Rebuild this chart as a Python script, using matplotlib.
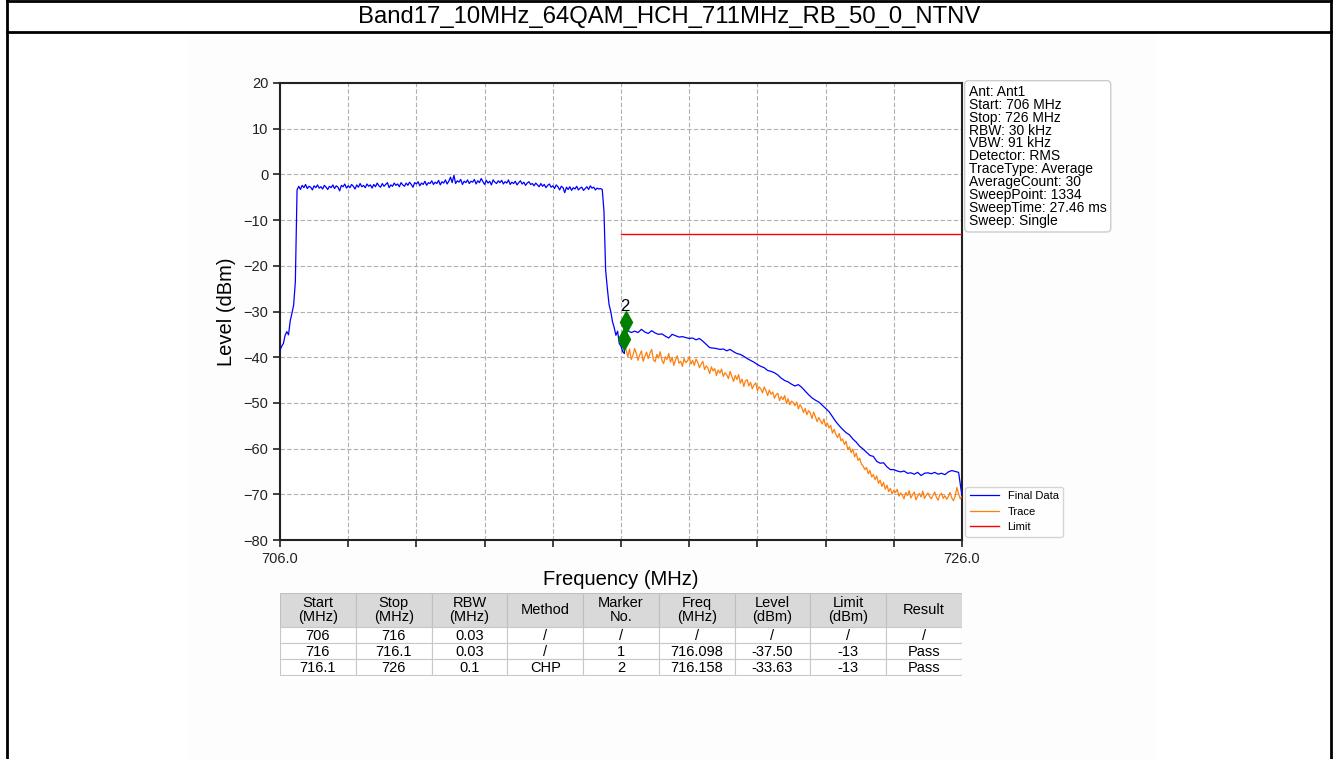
import numpy as np
import matplotlib.pyplot as plt
from matplotlib.patches import Rectangle
from matplotlib.lines import Line2D

plt.rcParams['font.family'] = ['Liberation Sans', 'DejaVu Sans']

title = 'Band17_10MHz_64QAM_HCH_711MHz_RB_50_0_NTNV'

# Final Data, first part (706 - 716.1 MHz, 0.05 MHz step)
lo_start, lo_step = 706.0, 0.05
final_lo = [
    -38.5, -37.6, -37.0, -35.2, -34.4, -35.1, -32.0, -30.4, -28.6, -23.5,
    -3.4, -2.6, -3.3, -2.4, -2.9, -2.2, -3.1, -2.6, -2.8, -3.4, -2.5, -2.9, -2.3, -3.0, -2.7, -3.2, -2.4, -2.8, -3.3, -2.6,
    -2.9, -2.3, -3.1, -2.5, -2.8, -3.6, -2.4, -2.7, -2.1, -3.0, -2.5, -2.9, -2.2, -2.6, -3.2, -2.3, -2.8, -2.0, -2.7, -2.4,
    -2.9, -2.1, -2.6, -2.3, -3.0, -2.2, -2.7, -1.9, -2.5, -2.8, -2.0, -2.6, -2.2, -1.8, -2.9, -2.3, -2.6, -1.9, -2.4, -2.1,
    -2.7, -1.8, -2.3, -2.6, -1.9, -2.4, -1.7, -2.2, -2.8, -1.8, -2.1, -1.6, -2.5, -1.9, -2.2, -1.5, -2.4, -1.8, -2.0, -1.4,
    -2.2, -1.7, -2.0, -1.3, -2.3, -1.6, -1.9, -1.2, -2.1, -1.5, -0.6, -1.8, -0.2, -2.0, -1.4, -1.7, -1.1, -2.2, -1.5, -1.8,
    -1.2, -2.0, -1.5, -1.7, -1.1, -2.1, -1.4, -1.8, -0.9, -1.6, -2.2, -1.3, -1.9, -1.5, -2.3, -1.2, -1.7, -2.0, -1.4, -1.8,
    -1.3, -2.1, -1.6, -1.9, -1.2, -2.2, -1.7, -2.0, -1.5, -2.3, -1.8, -1.4, -2.1, -1.7, -2.4, -1.9, -1.6, -2.2, -2.0, -2.5,
    -1.9, -2.3, -2.7, -2.0, -2.6, -2.2, -2.9, -2.4, -2.1, -2.8, -2.5, -3.1, -2.3, -2.7, -3.4, -2.6, -2.9, -4.0, -2.8, -3.3,
    -2.7, -3.5, -2.9, -3.2, -2.6, -3.4, -3.0, -2.8, -3.5, -3.1, -2.7, -3.3, -2.5, -3.0, -2.8, -3.4, -3.0, -3.2, -3.1, -3.3,
    -8.0, -21.0, -25.0, -28.5, -30.0, -32.2, -33.5, -35.2, -34.3, -37.0, -37.6, -38.8, -39.2,
]

# Final Data, second part (716.1 - 726 MHz, 0.1 MHz step)
hi_start, hi_step = 716.1, 0.1
final_hi = [
    -33.4, -34.2, -34.6, -34.3, -34.6, -33.9, -34.5, -34.8, -34.2, -34.7,
    -35.0, -34.9, -35.4, -35.8, -35.0, -35.3, -35.6, -35.5, -35.7, -35.9,
    -35.8, -36.2, -35.9, -36.5, -37.2, -37.9, -38.0, -38.1, -38.3, -38.2,
    -38.6, -38.3, -38.8, -39.2, -39.4, -39.8, -40.3, -40.7, -41.1, -41.6,
    -42.0, -42.3, -42.9, -43.1, -43.4, -43.9, -44.6, -45.1, -45.4, -45.9,
    -46.3, -46.0, -46.6, -47.4, -48.2, -48.9, -49.4, -49.8, -50.5, -51.2,
    -51.9, -53.0, -54.1, -55.0, -55.8, -56.5, -57.0, -57.9, -58.6, -59.5,
    -60.1, -60.8, -61.5, -61.7, -62.8, -63.2, -63.1, -64.0, -64.6, -64.6,
    -64.9, -65.1, -64.9, -65.4, -65.3, -65.6, -65.2, -65.9, -65.4, -65.3,
    -65.5, -65.2, -65.6, -65.4, -65.7, -65.1, -64.8, -65.0, -65.2, -70.4,
]

# Trace (716.1 - 726 MHz, 0.05 MHz step)
trace_start, trace_step = 716.1, 0.05
trace = [
    -37.6, -38.4, -39.9, -38.2, -40.5, -39.6, -38.1, -39.2, -40.7, -39.5, -38.6, -40.9, -39.8, -38.9, -40.3, -39.1, -38.3, -40.6, -41.0, -39.4,
    -40.2, -38.8, -40.7, -41.4, -39.9, -40.5, -39.2, -41.1, -40.0, -41.8, -40.6, -39.7, -41.3, -40.9, -42.0, -40.3, -41.2, -40.8, -39.9, -41.5,
    -40.7, -41.8, -40.4, -41.1, -42.3, -41.5, -40.9, -42.7, -41.9, -42.4, -43.6, -42.1, -43.0, -42.5, -44.0, -42.8, -43.5, -42.6, -44.2, -43.4,
    -43.8, -44.7, -43.1, -44.2, -45.3, -44.0, -44.9, -43.8, -45.7, -44.8, -46.4, -45.2, -44.9, -46.3, -45.5, -46.9, -46.1, -45.6, -47.3, -46.5,
    -46.9, -47.8, -46.5, -47.3, -48.4, -47.2, -48.1, -47.6, -49.0, -48.2, -47.9, -49.5, -48.6, -49.3, -48.4, -50.1, -49.1, -50.4, -49.6, -49.9,
    -50.6, -49.8, -51.3, -50.4, -51.0, -52.1, -51.2, -52.6, -51.7, -52.2, -53.4, -52.0, -53.0, -54.1, -53.2, -53.9, -54.6, -53.5, -55.1, -54.4,
    -55.5, -54.9, -56.6, -55.8, -56.9, -57.6, -56.7, -58.3, -57.9, -59.1, -58.4, -60.2, -59.6, -60.9, -60.1, -61.8, -61.0, -62.6, -62.1, -63.4,
    -63.8, -64.6, -64.1, -65.5, -64.8, -66.2, -65.7, -66.8, -66.0, -67.6, -66.9, -68.3, -67.4, -68.9, -68.0, -69.4, -68.7, -69.9, -69.1, -69.6,
    -68.9, -70.4, -69.7, -70.2, -71.0, -69.6, -70.3, -69.2, -70.8, -70.1, -69.5, -71.2, -70.4, -69.8, -70.6, -69.3, -70.9, -70.2, -69.7, -70.5,
    -71.0, -70.2, -69.5, -70.7, -71.3, -70.1, -69.8, -70.9, -70.3, -71.1, -70.5, -69.6, -70.8, -71.4, -70.4, -68.5, -69.9, -71.0, -70.4,
]

limit_freq = [716.0, 726.0]
limit_level = [-13, -13]

marker_freq = [716.098, 716.158]
marker_level = [-36.1, -32.2]
marker_text = ['', '2']

xticks = [706, 708, 710, 712, 714, 716, 718, 720, 722, 724, 726]
xticklabels = ['706.0', '', '', '', '', '', '', '', '', '', '726.0']
yticks = [20, 10, 0, -10, -20, -30, -40, -50, -60, -70, -80]

info = ['Ant: Ant1', 'Start: 706 MHz', 'Stop: 726 MHz', 'RBW: 30 kHz', 'VBW: 91 kHz',
        'Detector: RMS', 'TraceType: Average', 'AverageCount: 30', 'SweepPoint: 1334',
        'SweepTime: 27.46 ms', 'Sweep: Single']

col_labels = ['Start\n(MHz)', 'Stop\n(MHz)', 'RBW\n(MHz)', 'Method', 'Marker\nNo.',
              'Freq\n(MHz)', 'Level\n(dBm)', 'Limit\n(dBm)', 'Result']
rows = [
    ['706', '716', '0.03', '/', '/', '/', '/', '/', '/'],
    ['716', '716.1', '0.03', '/', '1', '716.098', '-37.50', '-13', 'Pass'],
    ['716.1', '726', '0.1', 'CHP', '2', '716.158', '-33.63', '-13', 'Pass'],
]

W, H = 1338, 759
fig = plt.figure(figsize=(W / 100, H / 100), dpi=100)

# page frame
fig.patches.append(Rectangle((188 / W, 0), (1156 - 188) / W, (H - 33) / H,
                             transform=fig.transFigure, fc='#fdfdfd', ec='none', zorder=-5))
for xs, ys, lw in [([7, 7], [0, H], 2), ([1331, 1331], [0, H], 2),
                   ([7, 1331], [1, 1], 2), ([7, 1331], [32, 32], 2)]:
    fig.add_artist(Line2D([x / W for x in xs], [1 - y / H for y in ys], color='black', lw=lw))
fig.text(0.5, 1 - 17 / H, title, ha='center', va='center', fontsize=17.2)

ax = fig.add_axes([280 / W, (H - 540) / H, 682 / W, 457 / H])

f_lo = lo_start + lo_step * np.arange(len(final_lo))
f_hi = hi_start + hi_step * np.arange(len(final_hi))
f_tr = trace_start + trace_step * np.arange(len(trace))

ax.plot(np.concatenate([f_lo, f_hi]), final_lo + final_hi, color='#0000ff', lw=0.9, label='Final Data', zorder=4)
ax.plot(f_tr, trace, color='#ff7f0e', lw=0.9, label='Trace', zorder=3)
ax.plot(limit_freq, limit_level, color='#ff0000', lw=1.0, label='Limit', zorder=3)
ax.plot(marker_freq, marker_level, 'd', color='green', markersize=11, zorder=5, linestyle='none')
for f, l, t in zip(marker_freq, marker_level, marker_text):
    if t:
        ax.text(f - 0.04, l + 1.6, t, ha='center', va='bottom', fontsize=12, zorder=6)

ax.set_xlim(706, 726)
ax.set_ylim(-80, 20)
ax.set_xticks(xticks)
ax.set_xticklabels(xticklabels)
ax.set_yticks(yticks)
ax.tick_params(direction='out', length=5, width=1.2, labelsize=10.5, colors='#222222')
ax.grid(True, linestyle=(0, (4, 2)), color='#b0b0b0', lw=0.8)
for s in ax.spines.values():
    s.set_linewidth(1.5)
    s.set_color('#222222')
ax.set_xlabel('Frequency (MHz)', fontsize=14.5, labelpad=3)
ax.set_ylabel('Level (dBm)', fontsize=14.5, labelpad=5)

ax.text(1.010, 0.996, '\n'.join(info), transform=ax.transAxes, ha='left', va='top',
        fontsize=10, linespacing=0.9,
        bbox=dict(boxstyle='round,pad=0.3', fc='white', ec='#cccccc', lw=1))
ax.legend(loc='lower left', bbox_to_anchor=(1.0, 0.0), fontsize=8, handlelength=2.6,
          frameon=True, edgecolor='#cccccc', fancybox=True, borderaxespad=0.3)

# table
tax = fig.add_axes([280 / W, (H - 676) / H, 682 / W, 83 / H])
tax.set_xlim(0, len(col_labels))
tax.set_ylim(83, 0)
tax.axis('off')
tops = [0, 34, 50, 66]
heights = [34, 16, 16, 16]
for c, lab in enumerate(col_labels):
    tax.add_patch(Rectangle((c, 0), 1, heights[0], fc='#d9d9d9', ec='#c0c0c0', lw=0.8))
    tax.text(c + 0.5, heights[0] / 2, lab, ha='center', va='center', fontsize=10.5,
             linespacing=0.95)
for r, row in enumerate(rows):
    for c, val in enumerate(row):
        tax.add_patch(Rectangle((c, tops[r + 1]), 1, heights[r + 1], fc='white', ec='#c8c8c8', lw=0.8))
        tax.text(c + 0.5, tops[r + 1] + heights[r + 1] / 2 + 0.5, val, ha='center', va='center',
                 fontsize=10.5)

fig.savefig('out.png', dpi=100)
